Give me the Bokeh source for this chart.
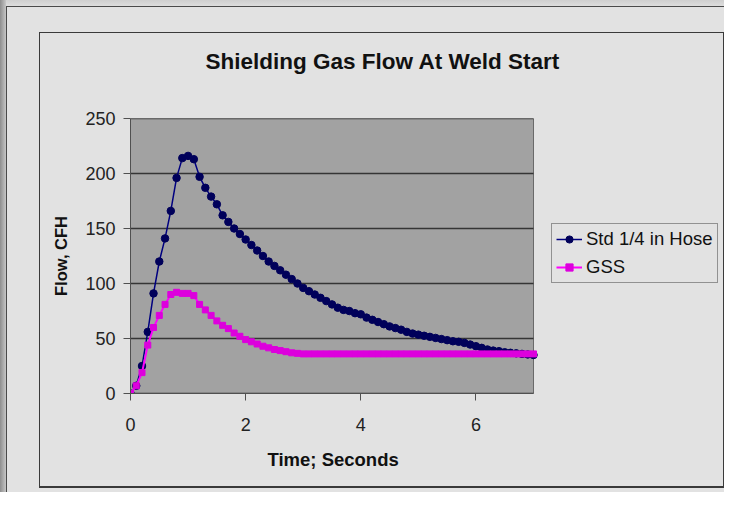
from bokeh.plotting import figure
from bokeh.models import Range1d, FixedTicker, Legend, LegendItem, Title
from bokeh.embed import file_html
from bokeh.resources import INLINE

title_text = "Shielding Gas Flow At Weld Start"
x_label = "Time; Seconds"
y_label = "Flow, CFH"
series_names = ["Std 1/4 in Hose", "GSS"]
x_ticks = [0, 2, 4, 6]
y_ticks = [0, 50, 100, 150, 200, 250]
x_limits = [0, 7]
y_limits = [0, 250]

time_s = [0.0, 0.1, 0.2, 0.3, 0.4, 0.5, 0.6, 0.7, 0.8, 0.9,
          1.0, 1.1, 1.2, 1.3, 1.4, 1.5, 1.6, 1.7, 1.8, 1.9,
          2.0, 2.1, 2.2, 2.3, 2.4, 2.5, 2.6, 2.7, 2.8, 2.9,
          3.0, 3.1, 3.2, 3.3, 3.4, 3.5, 3.6, 3.7, 3.8, 3.9,
          4.0, 4.1, 4.2, 4.3, 4.4, 4.5, 4.6, 4.7, 4.8, 4.9,
          5.0, 5.1, 5.2, 5.3, 5.4, 5.5, 5.6, 5.7, 5.8, 5.9,
          6.0, 6.1, 6.2, 6.3, 6.4, 6.5, 6.6, 6.7, 6.8, 6.9, 7.0]

std_hose = [0, 7, 25, 56, 91, 120, 141, 166, 196, 214,
            216, 213, 197, 187, 179, 172, 162, 156, 150, 145,
            140, 135, 130, 125, 120, 116, 112, 108, 104, 100,
            96, 93, 90, 87, 84, 81, 78, 76, 75, 73,
            72, 69, 67, 65, 63, 61, 59.5, 58, 56, 54.5,
            53.5, 52.5, 51.5, 50.5, 49.5, 48.5, 47.5, 47, 46, 44.5,
            43, 41.5, 40, 39, 38.5, 37.5, 37, 36.5, 36, 35.5, 35]

gss = [0, 7, 19, 44, 60, 71, 81, 90, 92, 91,
       91, 89, 81, 76, 71, 66, 62, 59, 55, 52,
       49, 47, 45, 43, 41.5, 40, 39, 38, 37, 36.5,
       36, 36, 36, 36, 36, 36, 36, 36, 36, 36,
       36, 36, 36, 36, 36, 36, 36, 36, 36, 36,
       36, 36, 36, 36, 36, 36, 36, 36, 36, 36,
       36, 36, 36, 36, 36, 36, 36, 36, 36, 36, 36]

FONT = "Liberation Sans"
BG = "#e2e2e2"

# plot area is 403px wide for x 0..7; frame extended right to hold the legend
PLOT_W = 403
FRAME_W = 592
x_end = x_limits[1] * FRAME_W / PLOT_W

p = figure(frame_width=FRAME_W, frame_height=275,
           x_range=Range1d(x_limits[0], x_end), y_range=Range1d(y_limits[0], y_limits[1]),
           output_backend="svg", toolbar_location=None,
           min_border_left=130, min_border_right=2, min_border_top=118, min_border_bottom=99)
p.border_fill_alpha = 0
p.background_fill_alpha = 0
p.outline_line_color = None

layers = [
    "linear-gradient(#3a3a3a, #3a3a3a) 39px 32px / 686px 1px no-repeat",
    "linear-gradient(#3a3a3a, #3a3a3a) 39px 486px / 686px 2px no-repeat",
    "linear-gradient(#3a3a3a, #3a3a3a) 39px 32px / 1px 455px no-repeat",
    "linear-gradient(#3a3a3a, #3a3a3a) 723px 32px / 1px 455px no-repeat",
    "linear-gradient(#4a4a4a, #4a4a4a) 6px 6px / 718px 1px no-repeat",
    "linear-gradient(#4a4a4a, #4a4a4a) 6px 6px / 1px 486px no-repeat",
    "linear-gradient(to right, #8e8e8e, #c6c6c6) 0px 0px / 6px 100% no-repeat",
    "linear-gradient(to bottom, #cfcfcf, #dddddd) 0px 0px / 100% 6px no-repeat",
    BG,
]
p.styles = {"background": ", ".join(layers)}

# plot-area background (gray) spanning the axis limits
p.quad(left=x_limits[0], right=x_limits[1], bottom=y_limits[0], top=y_limits[1],
       fill_color="#a2a2a2", line_color="#6a6a6a", line_width=1, level="image")

# horizontal gridlines limited to the plot area
p.segment(x0=[x_limits[0]] * len(y_ticks), x1=[x_limits[1]] * len(y_ticks),
          y0=y_ticks, y1=y_ticks, line_color="#353535", line_width=1.5, level="underlay")

p.title.text = title_text
p.title.align = "left"
p.title.offset = 75
p.title.vertical_align = "middle"
p.title.standoff = 88
p.title.text_font = FONT
p.title.text_font_size = "22.5px"
p.title.text_font_style = "bold"
p.title.text_color = "#111111"

p.xgrid.visible = False
p.ygrid.visible = False

p.xaxis.ticker = FixedTicker(ticks=x_ticks)
p.xaxis.bounds = (x_limits[0], x_limits[1])
p.yaxis.ticker = FixedTicker(ticks=y_ticks)
for ax in (p.xaxis, p.yaxis):
    ax.axis_line_color = "#505050"
    ax.major_tick_line_color = "#505050"
    ax.minor_tick_line_color = None
    ax.major_tick_in = 0
    ax.major_tick_out = 7
    ax.major_label_text_font = FONT
    ax.major_label_text_font_size = "18px"
    ax.major_label_text_color = "#222222"
    ax.axis_label_text_font = FONT
    ax.axis_label_text_font_style = "bold"
    ax.axis_label_text_color = "#111111"

p.xaxis.major_label_standoff = 17

# x-axis title placed under the plot area (centered on x 0..7, not on the wider frame)
xtitle = Title(text=x_label, align="left", offset=137, vertical_align="middle", standoff=28,
               text_font=FONT, text_font_size="18.5px", text_font_style="bold",
               text_color="#111111")
p.add_layout(xtitle, "below")

p.yaxis.axis_label = y_label
p.yaxis.major_label_standoff = 8
p.yaxis.axis_label_standoff = 12
p.yaxis.axis_label_text_font_size = "16.5px"

l1 = p.line(time_s, std_hose, line_color="#000080", line_width=1.5)
s1 = p.scatter(time_s, std_hose, marker="circle", size=7.5, fill_color="#00005a", line_color="#00005a")
l2 = p.line(time_s, gss, line_color="#ff00ff", line_width=2)
s2 = p.scatter(time_s, gss, marker="square", size=6, fill_color="#dd00dd", line_color="#dd00dd")

legend = Legend(items=[LegendItem(label=series_names[0], renderers=[l1, s1]),
                       LegendItem(label=series_names[1], renderers=[l2, s2])],
                location=(421, 110))
legend.background_fill_color = BG
legend.background_fill_alpha = 1
legend.border_line_color = "#404040"
legend.border_line_width = 1
legend.label_text_font = FONT
legend.label_text_font_size = "18.5px"
legend.label_text_color = "#111111"
legend.glyph_width = 26
legend.glyph_height = 18
legend.label_height = 18
legend.spacing = 6
legend.padding = 4
legend.label_standoff = 4
legend.margin = 0
p.add_layout(legend, "center")

open("out.html", "w").write(file_html(p, INLINE))
